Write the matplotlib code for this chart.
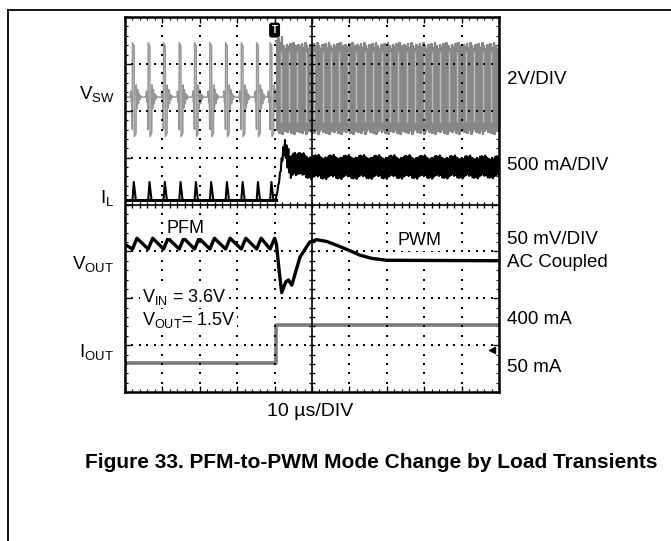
import matplotlib
matplotlib.use('Agg')
import matplotlib.pyplot as plt
import numpy as np
from matplotlib.lines import Line2D

plt.rcParams['font.family'] = ['Liberation Sans', 'DejaVu Sans']
plt.rcParams['mathtext.fontset'] = 'custom'
plt.rcParams['mathtext.rm'] = 'Liberation Sans'
plt.rcParams['mathtext.default'] = 'regular'

# scope screen is 10 x 8 divisions, y counted from bottom edge
pfm_pulses = [0.2, 0.62, 1.03, 1.45, 1.86, 2.27, 2.69, 3.11, 3.52, 3.88]
t_trig = 4.0
t_step = 4.05
pwm_period = 0.045
pwm_duty = 0.42

# V_SW (gray, top trace)
vsw_base = 6.29
vsw_pulse_dt = [-0.06, -0.045, -0.03, -0.015, -0.004, 0.0, 0.045, 0.05, 0.095, 0.1,
                0.12, 0.14, 0.16, 0.18, 0.2, 0.22, 0.25]
vsw_pulse_v = [6.29, 6.42, 6.18, 6.3, 5.6, 7.45, 7.38, 5.45, 5.52, 6.55,
               6.05, 6.45, 6.15, 6.36, 6.24, 6.32, 6.29]
vsw_pwm_hi = [7.36, 7.42, 7.33, 7.45, 7.38, 7.31, 7.40]
vsw_pwm_lo = [5.58, 5.52, 5.60, 5.50, 5.56, 5.62, 5.54]

# I_L (black)
il_base = 4.09
il_spike_dt = [0.0, 0.035, 0.09]
il_spike_v = [4.09, 4.48, 4.09]
il_step_t = [4.03, 4.12, 4.2, 4.27, 4.34, 4.42, 4.5, 4.65, 5.0, 10.0]
il_step_v = [4.09, 4.5, 5.0, 5.22, 5.0, 4.78, 4.92, 4.85, 4.8, 4.8]
il_ripple_t = [4.03, 4.15, 4.35, 10.0]
il_ripple_a = [0.0, 0.05, 0.24, 0.22]
il_ripple_k = [1.0, 0.8, 1.05, 0.7, 0.95, 0.85, 1.1, 0.75, 0.9]

# V_OUT (black)
vout_lo = 3.05
vout_hi = 3.28
vout_rise = 0.12
vout_tr_t = [4.05, 4.12, 4.19, 4.3, 4.37, 4.46, 4.68, 4.94, 5.12, 5.4, 5.66, 6.0, 6.28, 6.6, 7.0, 10.0]
vout_tr_v = [3.15, 2.6, 2.12, 2.35, 2.39, 2.28, 2.88, 3.2, 3.25, 3.21, 3.13, 3.02, 2.92, 2.85, 2.81, 2.8]

# I_OUT (gray)
iout_lo = 0.62
iout_hi = 1.43


def px(x, y):
    return x / 671, 1 - y / 541


fig = plt.figure(figsize=(6.71, 5.41), dpi=100)
ax = fig.add_axes([125 / 671, 1 - 392 / 541, 374 / 671, 375 / 541])
ax.set_xlim(0, 10)
ax.set_ylim(0, 8)

# ---- V_SW, PFM part
t_sw, v_sw = [0.0], [vsw_base]
for tp in pfm_pulses:
    for dt, v in zip(vsw_pulse_dt, vsw_pulse_v):
        t_sw.append(tp + dt)
        v_sw.append(v)
t_sw.append(t_step)
v_sw.append(vsw_base)
ax.plot(t_sw, v_sw, color='#969696', lw=1.1, zorder=2)

# ---- V_SW, PWM part
t_pw, v_pw = [], []
stripes = []
t = t_step
k = 0
while t < 10.05:
    hi = vsw_pwm_hi[k % len(vsw_pwm_hi)]
    lo = vsw_pwm_lo[k % len(vsw_pwm_lo)]
    if k < 4:
        hi += 0.12
    t_pw += [t, t + pwm_duty * pwm_period, t + pwm_duty * pwm_period, t + pwm_period]
    v_pw += [hi, hi, lo, lo]
    if k % 5 == 2:
        stripes.append(t + pwm_duty * pwm_period)
    t += pwm_period
    k += 1
ax.plot(t_pw, v_pw, color='#878787', lw=1.6, zorder=2)
ax.vlines(stripes, 5.75, 7.25, color='#bdbdbd', lw=1.0, zorder=2)

# ---- I_L
t_il, v_il = [0.0], [il_base]
for tp in pfm_pulses:
    for dt, v in zip(il_spike_dt, il_spike_v):
        t_il.append(tp + dt)
        v_il.append(v)
t_il.append(il_step_t[0])
v_il.append(il_base)
t = il_step_t[0]
k = 0
while t < 10.05:
    m = np.interp(t, il_step_t, il_step_v)
    a = np.interp(t, il_ripple_t, il_ripple_a) * il_ripple_k[k % len(il_ripple_k)]
    t_il.append(t)
    v_il.append(m + (a if k % 2 else -a))
    t += pwm_period / 2
    k += 1
ax.plot(t_il, v_il, color='black', lw=1.5, zorder=4)
ax.plot([0, il_step_t[0]], [il_base, il_base], color='black', lw=2.2, zorder=4)

# ---- V_OUT
t_vo, v_vo = [0.0], [3.15]
for tp in pfm_pulses:
    t_vo += [tp, tp + vout_rise]
    v_vo += [vout_lo, vout_hi]
t_vo += vout_tr_t
v_vo += vout_tr_v
ax.plot(t_vo, v_vo, color='black', lw=2.4, zorder=4)

# ---- I_OUT
ax.plot([0, t_step, t_step, 10], [iout_lo, iout_lo, iout_hi, iout_hi],
        color='#7a7a7a', lw=2.6, zorder=2)

# ---- graticule
dots_y = np.arange(0.2, 8, 0.2)
dots_x = np.arange(0.2, 10, 0.2)
for gx in [1, 2, 3, 4, 6, 7, 8, 9]:
    ax.plot([gx] * len(dots_y), dots_y, ls='none', marker='s', ms=1.9, mew=0,
            color='black', zorder=3)
for gy in [1, 2, 3, 5, 6, 7]:
    ax.plot(dots_x, [gy] * len(dots_x), ls='none', marker='s', ms=1.9, mew=0,
            color='black', zorder=3)
ax.axvline(5, color='black', lw=1.2, zorder=3)
ax.axhline(4, color='black', lw=1.2, zorder=3)
ax.plot([5] * len(dots_y), dots_y, ls='none', marker='_', ms=5, mew=1,
        color='black', zorder=3)
ax.plot(dots_x, [4] * len(dots_x), ls='none', marker='|', ms=5, mew=1,
        color='black', zorder=3)

ax.set_xticks(range(11))
ax.set_yticks(range(9))
ax.set_xticks(np.arange(0, 10.01, 0.2), minor=True)
ax.set_yticks(np.arange(0, 8.01, 0.2), minor=True)
ax.tick_params(which='both', direction='in', top=True, right=True,
               labelbottom=False, labelleft=False)
ax.tick_params(which='major', length=4.5, width=1)
ax.tick_params(which='minor', length=2.5, width=0.8)
for s in ax.spines.values():
    s.set_linewidth(1.8)

# trigger marker and level arrow
ax.text(t_trig, 7.72, 'T', ha='center', va='center', color='white',
        fontsize=7, fontweight='bold', zorder=6,
        bbox=dict(boxstyle='round,pad=0.18', fc='black', ec='black'))
ax.plot(9.82, 0.9, marker='<', ms=5, color='black', zorder=6, clip_on=False)

# in-screen labels
box = dict(fc='white', ec='none', pad=1)
ax.text(1.11, 3.40, 'PFM', fontsize=13, va='baseline', zorder=5, bbox=box)
ax.text(7.29, 3.13, 'PWM', fontsize=13, va='baseline', zorder=5, bbox=box)
ax.text(0.45, 1.93, '$V_{IN}$ = 3.6V', fontsize=13, va='baseline', zorder=5, bbox=box)
ax.text(0.45, 1.43, '$V_{OUT}$= 1.5V', fontsize=13, va='baseline', zorder=5, bbox=box)

# channel names
fig.text(*px(115, 99.5), '$V_{SW}$', ha='right', va='baseline', fontsize=13.5)
fig.text(*px(114, 203), '$I_{L}$', ha='right', va='baseline', fontsize=13.5)
fig.text(*px(114, 269), '$V_{OUT}$', ha='right', va='baseline', fontsize=13.5)
fig.text(*px(114, 357), '$I_{OUT}$', ha='right', va='baseline', fontsize=13.5)

# scales
right_labels = [('2V/DIV', 84), ('500 mA/DIV', 170), ('50 mV/DIV', 244),
                ('AC Coupled', 267), ('400 mA', 324), ('50 mA', 372)]
for txt, y in right_labels:
    fig.text(*px(507, y), txt, ha='left', va='baseline', fontsize=13.5)

fig.text(*px(310, 412), '10 \u00b5s/DIV', ha='center', va='center', fontsize=14)
fig.text(*px(371, 462), 'Figure 33. PFM-to-PWM Mode Change by Load Transients',
         ha='center', va='center', fontsize=15, fontweight='bold')

# page frame
fig.add_artist(Line2D([8 / 671, 1], [1 - 10 / 541] * 2, color='black', lw=1.3))
fig.add_artist(Line2D([8 / 671] * 2, [0, 1 - 10 / 541], color='black', lw=1.3))

fig.savefig('out.png', dpi=100)
